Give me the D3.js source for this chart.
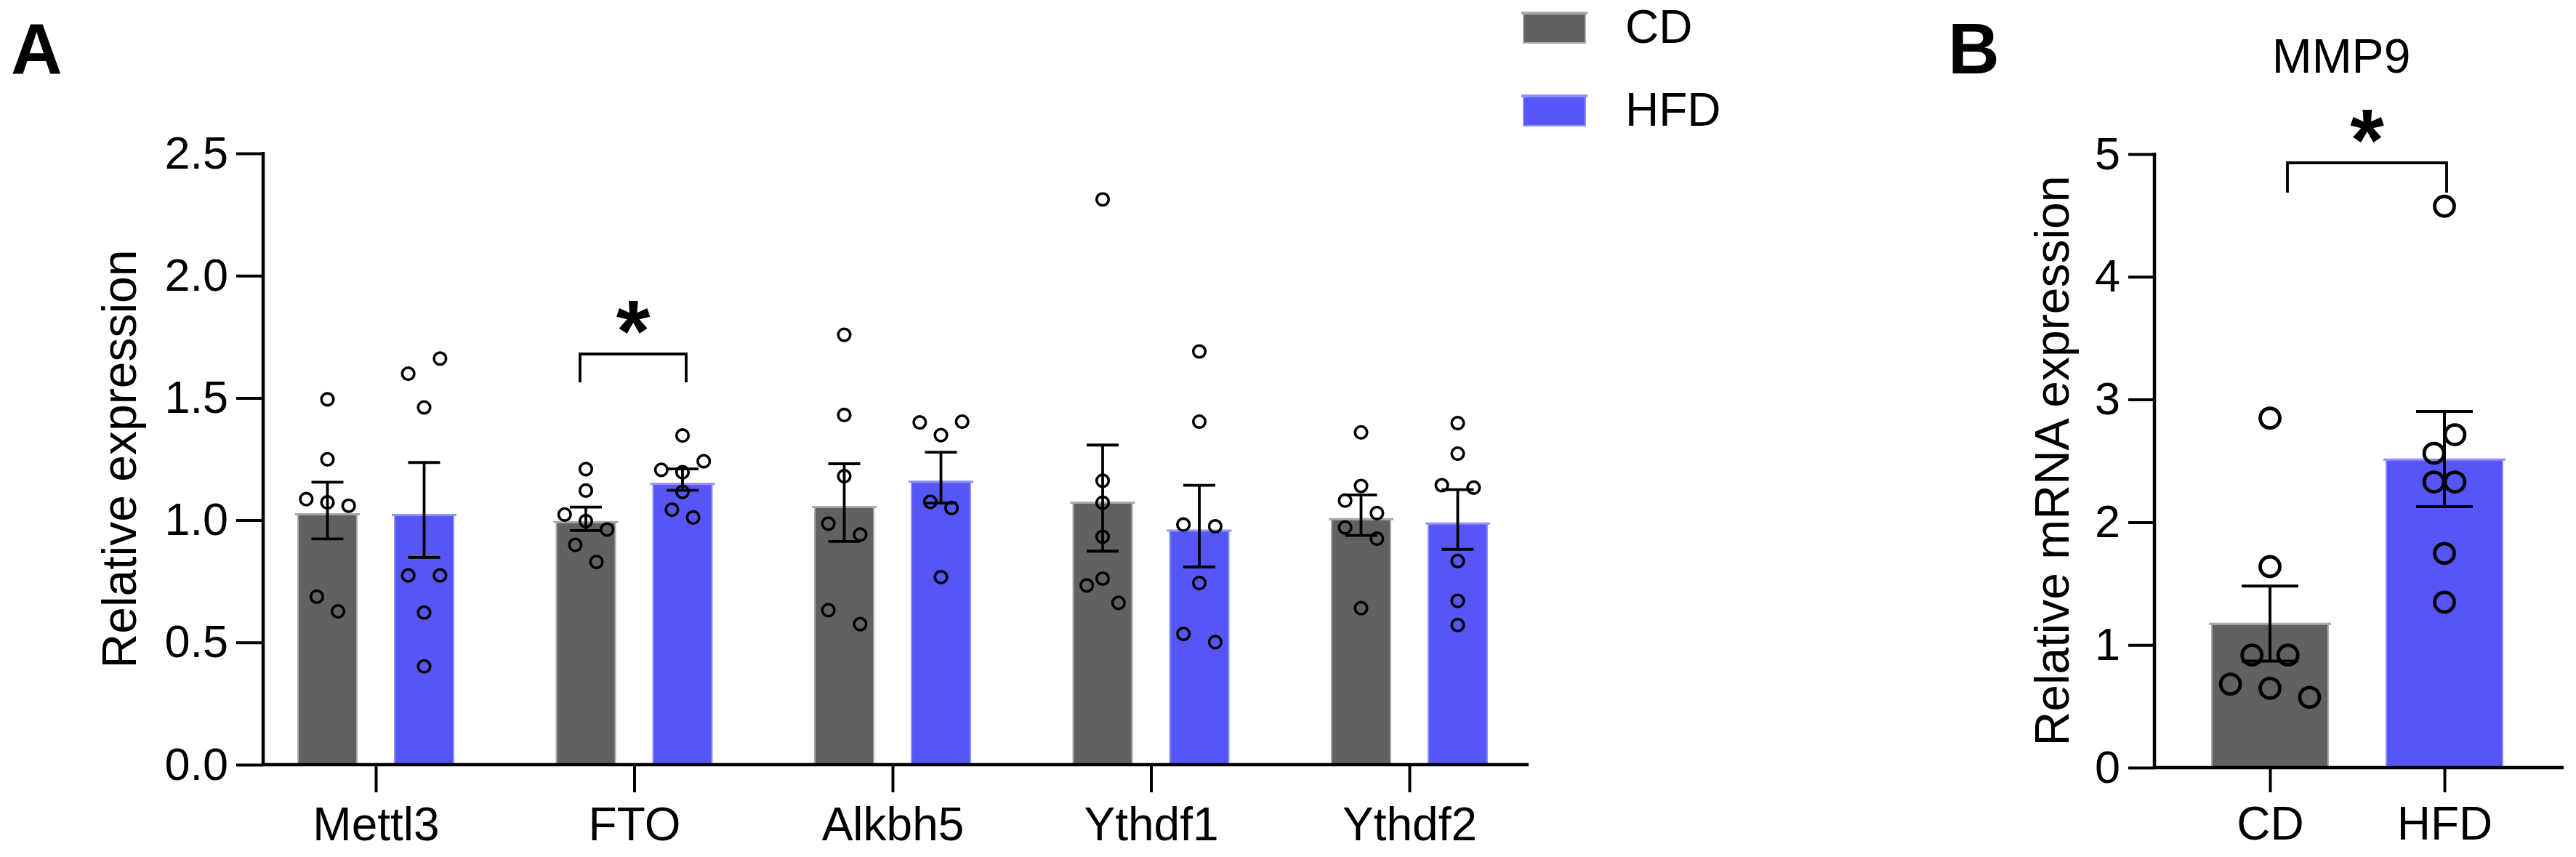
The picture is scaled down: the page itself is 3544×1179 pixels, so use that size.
<!DOCTYPE html>
<html><head><meta charset="utf-8">
<script src="https://cdn.jsdelivr.net/npm/d3@7"></script>
<style>html,body{margin:0;padding:0;background:#fff;} svg{display:block;}</style>
</head><body>
<svg id="chart" width="3544" height="1179"></svg>
<script>
// ---------- Panel A data ----------
const genes = ["Mettl3", "FTO", "Alkbh5", "Ythdf1", "Ythdf2"];
const groups = ["CD", "HFD"];
const barCD  = [1.024, 0.992, 1.054, 1.072, 1.004];
const barHFD = [1.021, 1.148, 1.157, 0.957, 0.986];
const semCD  = [0.116, 0.048, 0.159, 0.217, 0.083];
const semHFD = [0.194, 0.044, 0.104, 0.167, 0.122];
const ptsCD = [
  [1.494, 1.249, 1.086, 1.073, 1.059, 0.687, 0.627],
  [1.209, 1.121, 1.023, 0.996, 0.962, 0.899, 0.829],
  [1.758, 1.430, 1.180, 0.986, 0.941, 0.632, 0.575],
  [2.312, 1.161, 1.071, 0.932, 0.761, 0.733, 0.662],
  [1.359, 1.140, 1.080, 1.029, 0.970, 0.924, 0.640]
];
const ptsHFD = [
  [1.661, 1.599, 1.461, 0.774, 0.774, 0.622, 0.402],
  [1.346, 1.241, 1.206, 1.196, 1.116, 1.043, 1.011],
  [1.400, 1.403, 1.348, 1.075, 1.050, 0.767],
  [1.690, 1.403, 0.982, 0.975, 0.743, 0.535, 0.501],
  [1.397, 1.272, 1.143, 1.133, 0.833, 0.670, 0.571]
];
// scatter slot of each point, as a fraction of the bar width
const jitCD = [
  [0, 0, -0.36, 0, 0.36, -0.18, 0.18],
  [0, 0, -0.36, 0, 0.36, -0.18, 0.18],
  [0, 0, 0, -0.27, 0.27, -0.27, 0.27],
  [0, 0, 0, 0, 0, -0.27, 0.27],
  [0, 0, -0.27, 0.27, -0.27, 0.27, 0]
];
const jitHFD = [
  [0.27, -0.27, 0, -0.27, 0.27, 0, 0],
  [0, 0.36, -0.36, 0, 0, -0.18, 0.18],
  [-0.36, 0.36, 0, -0.18, 0.18, 0],
  [0, 0, -0.27, 0.27, 0, -0.27, 0.27],
  [0, 0, -0.27, 0.27, 0, 0, 0]
];
const yTicksA = [0, 0.5, 1.0, 1.5, 2.0, 2.5];
const sigA = [{gene: "FTO", label: "*"}];

// ---------- Panel B data ----------
const groupsB = ["CD", "HFD"];
const barB = [1.171, 2.510];
const semB = [0.306, 0.388];
const ptsB = [
  [2.848, 1.638, 0.917, 0.917, 0.680, 0.646, 0.573],
  [4.575, 2.713, 2.562, 2.328, 2.328, 1.746, 1.348]
];
const jitB = [
  [0, 0, -0.155, 0.155, -0.34, 0, 0.34],
  [0, 0.09, -0.09, -0.09, 0.09, 0, 0]
];
const yTicksB = [0, 1, 2, 3, 4, 5];
const titleB = "MMP9";

// ---------- style ----------
const FONT = "'Liberation Sans', Arial, Helvetica, sans-serif";
const fillC = {CD: "#616161", HFD: "#5656F7"};
const edgeC = {CD: "#a9a9a9", HFD: "#8f8fff"};

const svg = d3.select("#chart");
svg.append("rect").attr("width", 3544).attr("height", 1179).attr("fill", "#fff");

function drawGroup(parent, o) {
  const g = parent.append("g");
  const y0 = o.y(0), yv = o.y(o.bar);
  g.append("rect").attr("x", o.cx - o.w / 2).attr("y", yv)
    .attr("width", o.w).attr("height", y0 - yv)
    .attr("fill", fillC[o.grp]).attr("stroke", edgeC[o.grp]).attr("stroke-width", 2);
  g.append("line").attr("x1", o.cx - o.w / 2 - 4).attr("x2", o.cx + o.w / 2 + 4)
    .attr("y1", yv).attr("y2", yv).attr("stroke", edgeC[o.grp]).attr("stroke-width", 3);
  g.append("g").selectAll("circle").data(o.pts).enter().append("circle")
    .attr("cx", (d, i) => o.cx + o.jit[i] * o.w)
    .attr("cy", d => o.y(d))
    .attr("r", o.r).attr("fill", "none").attr("stroke", "#000").attr("stroke-width", o.sw);
  const m = d3.mean(o.pts);
  const eg = g.append("g").attr("stroke", "#000").attr("stroke-width", o.esw);
  eg.append("line").attr("x1", o.cx).attr("x2", o.cx).attr("y1", o.y(m + o.sem)).attr("y2", o.y(m - o.sem));
  [m + o.sem, m - o.sem].forEach(v => {
    eg.append("line").attr("x1", o.cx - o.cap / 2).attr("x2", o.cx + o.cap / 2)
      .attr("y1", o.y(v)).attr("y2", o.y(v));
  });
}

function styleAxis(ax, size) {
  ax.select(".domain").remove();
  ax.selectAll(".tick line").attr("stroke", "#000").attr("stroke-width", 4);
  ax.selectAll(".tick text").attr("fill", "#000").style("font-family", FONT).style("font-size", size + "px");
}

// ================= Panel A =================
const yA = d3.scaleLinear().domain([0, 2.5]).range([1052, 211]);
const xA = d3.scalePoint().domain(genes).range([517, 1939]);
const xSubA = d3.scalePoint().domain(groups).range([-66.5, 66.5]);
const axLeftA = 362, axRightA = 2103, bwA = 81;

const gA = svg.append("g");
genes.forEach((gname, i) => {
  groups.forEach(grp => {
    drawGroup(gA, {
      grp, cx: xA(gname) + xSubA(grp), w: bwA, y: yA,
      bar: grp === "CD" ? barCD[i] : barHFD[i],
      sem: grp === "CD" ? semCD[i] : semHFD[i],
      pts: grp === "CD" ? ptsCD[i] : ptsHFD[i],
      jit: grp === "CD" ? jitCD[i] : jitHFD[i],
      r: 8.3, sw: 3.6, esw: 3.8, cap: 44
    });
  });
});

// axes A
const axYA = svg.append("g").attr("transform", `translate(${axLeftA},0)`)
  .call(d3.axisLeft(yA).tickValues(yTicksA).tickFormat(d3.format(".1f")).tickSize(37).tickPadding(11));
styleAxis(axYA, 63);
const axXA = svg.append("g").attr("transform", `translate(0,${yA(0)})`)
  .call(d3.axisBottom(xA).tickSize(38).tickPadding(21));
styleAxis(axXA, 64);
svg.append("line").attr("x1", axLeftA).attr("x2", axLeftA).attr("y1", yA(2.5) - 2).attr("y2", yA(0) + 2)
  .attr("stroke", "#000").attr("stroke-width", 4.5);
svg.append("line").attr("x1", axLeftA - 2).attr("x2", axRightA).attr("y1", yA(0)).attr("y2", yA(0))
  .attr("stroke", "#000").attr("stroke-width", 4.5);

svg.append("text").attr("transform", `translate(187,${(yA(0) + yA(2.5)) / 2}) rotate(-90)`)
  .attr("text-anchor", "middle").style("font-family", FONT).style("font-size", "66px")
  .text("Relative expression");
svg.append("text").attr("x", 15).attr("y", 101).style("font-family", FONT)
  .style("font-size", "98px").style("font-weight", "bold").text("A");

// significance A
sigA.forEach(s => {
  const x1 = xA(s.gene) + xSubA("CD") - 8, x2 = xA(s.gene) + xSubA("HFD") + 5;
  const yb = 487;
  svg.append("path").attr("d", `M${x1},${yb + 39}V${yb}H${x2}V${yb + 39}`)
    .attr("fill", "none").attr("stroke", "#000").attr("stroke-width", 3.8);
  svg.append("text").attr("x", (x1 + x2) / 2).attr("y", 497).attr("text-anchor", "middle")
    .style("font-family", FONT).style("font-size", "120px").style("font-weight", "bold").text(s.label);
});

// legend
groups.forEach((grp, i) => {
  const ly = [18, 132][i];
  svg.append("rect").attr("x", 2096).attr("y", ly).attr("width", 85).attr("height", 41)
    .attr("fill", fillC[grp]).attr("stroke", edgeC[grp]).attr("stroke-width", 2);
  svg.append("line").attr("x1", 2093).attr("x2", 2184).attr("y1", ly).attr("y2", ly)
    .attr("stroke", edgeC[grp]).attr("stroke-width", 4);
  svg.append("text").attr("x", 2236).attr("y", ly + 41).style("font-family", FONT)
    .style("font-size", "64px").text(grp);
});

// ================= Panel B =================
const yB = d3.scaleLinear().domain([0, 5]).range([1056, 212]);
const xB = d3.scalePoint().domain(groupsB).range([3123, 3363]);
const axLeftB = 2964, axRightB = 3527, bwB = 160;

const gB = svg.append("g");
groupsB.forEach((grp, i) => {
  drawGroup(gB, {
    grp, cx: xB(grp), w: bwB, y: yB, bar: barB[i], sem: semB[i], pts: ptsB[i], jit: jitB[i],
    r: 13.5, sw: 4.8, esw: 4, cap: 78
  });
});
const axYB = svg.append("g").attr("transform", `translate(${axLeftB},0)`)
  .call(d3.axisLeft(yB).tickValues(yTicksB).tickFormat(d3.format("d")).tickSize(36).tickPadding(11));
styleAxis(axYB, 63);
const axXB = svg.append("g").attr("transform", `translate(0,${yB(0)})`)
  .call(d3.axisBottom(xB).tickSize(34).tickPadding(20));
styleAxis(axXB, 64);
svg.append("line").attr("x1", axLeftB).attr("x2", axLeftB).attr("y1", yB(5) - 2).attr("y2", yB(0) + 2)
  .attr("stroke", "#000").attr("stroke-width", 4.5);
svg.append("line").attr("x1", axLeftB - 2).attr("x2", axRightB).attr("y1", yB(0)).attr("y2", yB(0))
  .attr("stroke", "#000").attr("stroke-width", 4.5);

svg.append("text").attr("transform", `translate(2846,${(yB(0) + yB(5)) / 2}) rotate(-90)`)
  .attr("text-anchor", "middle").style("font-family", FONT).style("font-size", "66px")
  .text("Relative mRNA expression");
svg.append("text").attr("x", 2680).attr("y", 101).style("font-family", FONT)
  .style("font-size", "98px").style("font-weight", "bold").text("B");
svg.append("text").attr("x", 3221).attr("y", 100).attr("text-anchor", "middle")
  .style("font-family", FONT).style("font-size", "66px").text(titleB);

{
  const x1 = xB("CD") + 24, x2 = xB("HFD") + 3, yb = 224;
  svg.append("path").attr("d", `M${x1},${yb + 41}V${yb}H${x2}V${yb + 41}`)
    .attr("fill", "none").attr("stroke", "#000").attr("stroke-width", 3.8);
  svg.append("text").attr("x", (x1 + x2) / 2).attr("y", 234).attr("text-anchor", "middle")
    .style("font-family", FONT).style("font-size", "120px").style("font-weight", "bold").text("*");
}
</script>
</body></html>
